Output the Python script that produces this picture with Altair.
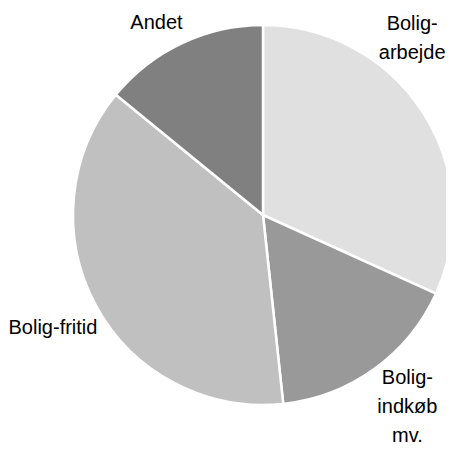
import altair as alt
import pandas as pd

categories = ["Bolig-arbejde", "Bolig-indkøb mv.", "Bolig-fritid", "Andet"]
values = [31.8, 16.5, 37.6, 14.1]
label_text = ["Bolig-\narbejde", "Bolig-\nindkøb\nmv.", "Bolig-fritid", "Andet"]
colors = ["#e0e0e0", "#999999", "#c0c0c0", "#808080"]

df = pd.DataFrame({
    "cat": categories,
    "val": values,
    "label": label_text,
    "order": list(range(len(categories))),
})

CX, CY, R = 255, 207, 190
FONT = "'Liberation Sans Narrow', 'Arial Narrow', 'Liberation Sans', Arial, sans-serif"

pie = alt.Chart(df).mark_arc(outerRadius=R, stroke="white", strokeWidth=2.5).encode(
    theta=alt.Theta("val:Q", stack=True),
    order=alt.Order("order:Q"),
    x=alt.value(CX),
    y=alt.value(CY),
    color=alt.Color("cat:N", scale=alt.Scale(domain=categories, range=colors), legend=None),
)

# label placement (style): radius, dx, dy per category
placement = {
    "Bolig-arbejde": (200, -19, -83),
    "Bolig-indkøb mv.": (245, 1, -36),
    "Bolig-fritid": (240, 1, -1),
    "Andet": (230, -8, 16),
}

label_base = alt.Chart(df).transform_joinaggregate(
    total="sum(val)"
).transform_window(
    cum="sum(val)", sort=[alt.SortField("order")], frame=[None, 0]
).transform_calculate(
    midfrac="(datum.cum - datum.val / 2) / datum.total"
)

layers = [pie]
for cat in categories:
    r, dx, dy = placement[cat]
    layers.append(
        label_base.transform_filter(alt.datum.cat == cat).mark_text(
            radius=r, dx=dx, dy=dy, font=FONT, fontSize=20, color="black",
            lineBreak="\n", lineHeight=29, align="center", baseline="middle",
        ).encode(
            theta=alt.Theta("midfrac:Q", scale=alt.Scale(domain=[0, 1])),
            x=alt.value(CX),
            y=alt.value(CY),
            text="label:N",
        )
    )

chart = alt.layer(*layers).resolve_scale(theta="independent").properties(
    width=438, height=441, padding=0, autosize=alt.AutoSizeParams(type="none")
).configure_view(stroke=None)

chart.save("out.html", embed_options={"renderer": "svg", "actions": False})
